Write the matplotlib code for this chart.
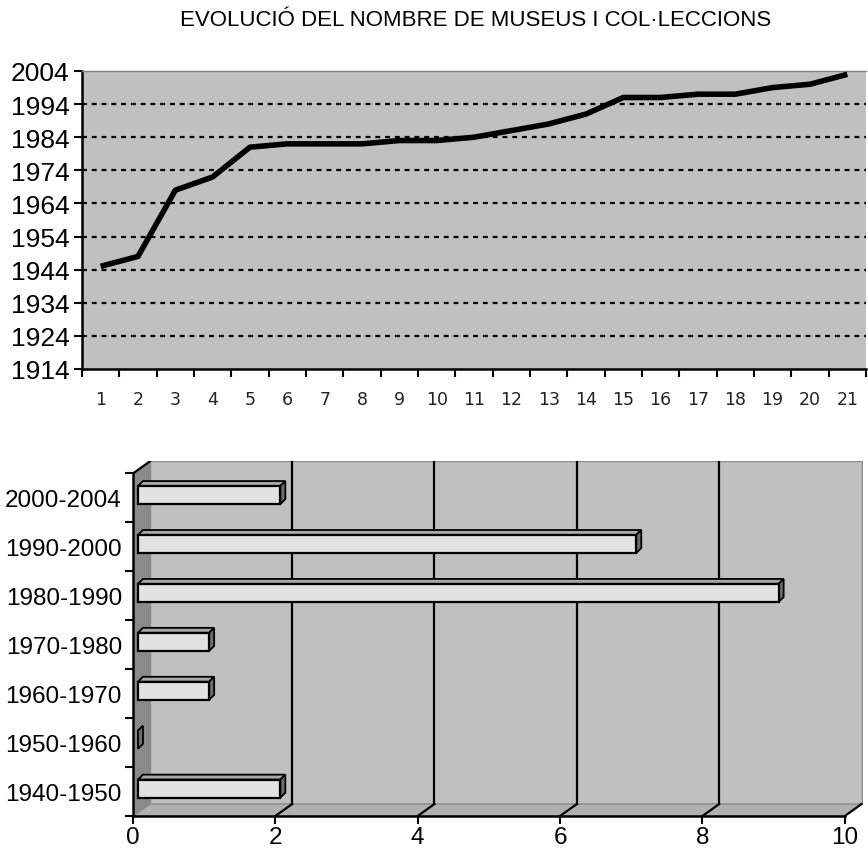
import matplotlib

matplotlib.use("Agg")
import matplotlib.pyplot as plt
from matplotlib.patches import Polygon, Rectangle

plt.rcParams["font.family"] = ["Liberation Sans", "DejaVu Sans"]

TITLE = "EVOLUCIÓ DEL NOMBRE DE MUSEUS I COL·LECCIONS"

# top chart: founding year of each museum / collection (ordinal)
museum_idx = list(range(1, 22))
founding_year = [1945, 1948, 1968, 1972, 1981, 1982, 1982, 1982, 1983, 1983,
                 1984, 1986, 1988, 1991, 1996, 1996, 1997, 1997, 1999, 2000,
                 2003]
year_ticks = list(range(1914, 2005, 10))

# bottom chart: number of museums per decade
decades = ["1940-1950", "1950-1960", "1960-1970", "1970-1980",
           "1980-1990", "1990-2000", "2000-2004"]
counts = [2, 0, 1, 1, 9, 7, 2]
count_ticks = [0, 2, 4, 6, 8, 10]

W, H = 868, 853
fig = plt.figure(figsize=(W / 100, H / 100), dpi=100)
fig.text(476 / W, 1 - 20 / H, TITLE, ha="center", va="center", fontsize=16)

# ---------------- top: line chart ----------------
ax = fig.add_axes([82 / W, 1 - 370 / H, 784 / W, 298 / H])
ax.set_facecolor("#c0c0c0")
ax.plot(museum_idx, founding_year, color="black", lw=4, solid_joinstyle="round",
        solid_capstyle="butt", zorder=3)
ax.set_xlim(0.5, 21.5)
ax.set_ylim(year_ticks[0], year_ticks[-1])
ax.set_yticks(year_ticks)
ax.set_yticklabels([str(y) for y in year_ticks], fontsize=19)
for y in year_ticks[1:-1]:
    ax.axhline(y, color="black", lw=1.6, ls=(0, (2.2, 2.2)), zorder=1)
ax.set_xticks([i + 0.5 for i in range(0, 22)])
ax.set_xticklabels([])
ax.set_xticks(museum_idx, minor=True)
ax.set_xticklabels([str(i) for i in museum_idx], minor=True,
                   fontsize=12.5, family="DejaVu Sans", color="#222222")
ax.tick_params(axis="x", which="major", direction="out", length=6, width=1.5)
ax.tick_params(axis="x", which="minor", length=0, pad=15)
ax.tick_params(axis="y", direction="out", length=6, width=1.5, pad=3)
ax.spines["left"].set_linewidth(1.8)
ax.spines["bottom"].set_linewidth(1.8)
ax.spines["top"].set_color("#808080")
ax.spines["top"].set_linewidth(1)
ax.spines["right"].set_visible(False)

# ---------------- bottom: pseudo-3D bar chart ----------------
bx = fig.add_axes([133 / W, 1 - 817 / H, 730 / W, 355 / H])
n = len(decades)
dx, dy = 0.235, 0.245        # wall depth in data units
bdx, bdy = 0.07, 0.06        # bar offset inside the depth
bh = 0.37                    # bar height
tdx, tdy = 0.07, 0.10        # bar top-face depth
xmax = count_ticks[-1]
y0, y1 = -0.5, n - 0.5

bx.set_xlim(0, xmax + dx + 0.02)
bx.set_ylim(y0, y1 + dy + 0.01)
bx.set_facecolor("none")
for s in ("top", "right"):
    bx.spines[s].set_visible(False)
bx.spines["left"].set_bounds(y0, y1)
bx.spines["bottom"].set_bounds(0, xmax)
bx.spines["bottom"].set_position(("data", y0))
bx.spines["left"].set_linewidth(1.8)
bx.spines["bottom"].set_linewidth(1.8)

# back wall
bx.add_patch(Polygon([(dx, y0 + dy), (xmax + dx, y0 + dy), (xmax + dx, y1 + dy),
                      (dx, y1 + dy)], closed=True, fc="#c0c0c0", ec="#8c8c8c",
                     lw=1, zorder=0))
# floor
bx.add_patch(Polygon([(0, y0), (xmax, y0), (xmax + dx, y0 + dy), (dx, y0 + dy)],
                     closed=True, fc="#b0b0b0", ec="#8c8c8c", lw=1, zorder=0))
# left side wall
bx.add_patch(Polygon([(0, y0), (dx, y0 + dy), (dx, y1 + dy), (0, y1)],
                     closed=True, fc="#8a8a8a", ec="#8a8a8a", lw=1, zorder=0))
for t in count_ticks[1:]:
    if t < xmax:
        bx.plot([t + dx, t + dx], [y0 + dy, y1 + dy], color="black", lw=1.6,
                zorder=1)
    bx.plot([t, t + dx], [y0, y0 + dy], color="black", lw=1.6, zorder=1)
bx.plot([0, dx], [y1, y1 + dy], color="black", lw=1.6, zorder=1)

# bars
for i, v in enumerate(counts):
    yb = i - bh / 2 + bdy
    x0 = bdx
    x1 = bdx + v
    bx.add_patch(Polygon([(x0, yb + bh), (x1, yb + bh), (x1 + tdx, yb + bh + tdy),
                          (x0 + tdx, yb + bh + tdy)], closed=True, fc="#a8a8a8",
                         ec="black", lw=1.3, zorder=3))
    bx.add_patch(Polygon([(x1, yb), (x1 + tdx, yb + tdy), (x1 + tdx, yb + bh + tdy),
                          (x1, yb + bh)], closed=True, fc="#6e6e6e",
                         ec="black", lw=1.3, zorder=3))
    if v > 0:
        bx.add_patch(Rectangle((x0, yb), v, bh, fc="#e2e2e2", ec="black",
                               lw=1.6, zorder=4))

bx.set_yticks([y0 + k for k in range(n + 1)])
bx.set_yticklabels([])
bx.set_yticks(range(n), minor=True)
bx.set_yticklabels(decades, minor=True, fontsize=17.5)
bx.tick_params(axis="y", which="major", direction="out", length=6, width=1.5)
bx.tick_params(axis="y", which="minor", length=0, pad=8)
bx.set_xticks(count_ticks)
bx.set_xticklabels([str(t) for t in count_ticks], fontsize=17.5)
bx.tick_params(axis="x", direction="out", length=6, width=1.5, pad=1)

fig.savefig("out.png", dpi=100)
